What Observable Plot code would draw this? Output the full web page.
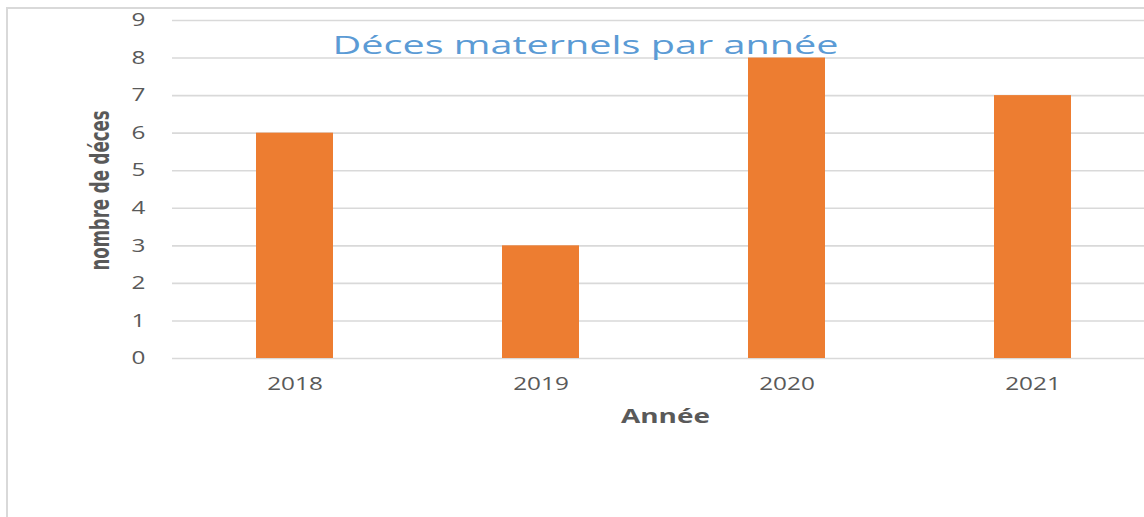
<!DOCTYPE html>
<html><head><meta charset="utf-8">
<script src="https://cdn.jsdelivr.net/npm/d3@7"></script>
<script src="https://cdn.jsdelivr.net/npm/@observablehq/plot@0.6"></script>
<style>
body{margin:0;background:#fff;}
#wrap{position:relative;width:1144px;height:517px;overflow:hidden;}
#border{position:absolute;left:6px;top:7px;width:1200px;height:600px;border-left:2px solid #d9d9d9;border-top:2px solid #d9d9d9;pointer-events:none;}
#wrap svg{position:absolute;left:0;top:0;}
</style></head><body><div id="wrap"><div id="border"></div></div>
<script>
const years = ["2018", "2019", "2020", "2021"];
const deaths = [6, 3, 8, 7];
const yTicks = [0, 1, 2, 3, 4, 5, 6, 7, 8, 9];
const titleText = "Déces maternels par année";
const xLabel = "Année";
const yLabel = "nombre de déces";

const data = years.map((y, i) => ({year: y, value: deaths[i]}));

const chart = Plot.plot({
  width: 1144, height: 517,
  marginLeft: 172, marginRight: 0, marginTop: 20, marginBottom: 159,
  style: {fontFamily: "'Open Sans', sans-serif", background: "transparent", overflow: "hidden"},
  x: {domain: years, range: [172, 1156], paddingInner: 0.685, paddingOuter: 0.3425, label: null},
  y: {domain: [0, 9], label: null},
  marks: [
    Plot.gridY(yTicks, {stroke: "#d9d9d9", strokeOpacity: 1, strokeWidth: 1.6}),
    Plot.barY(data, {x: "year", y: "value", fill: "#ED7D31"}),
    Plot.axisY(yTicks, {tickSize: 0, tickPadding: 27, fontSize: 18, color: "#595959", className: "yticks"}),
    Plot.axisX({tickSize: 0, tickPadding: 19, fontSize: 18, color: "#595959", className: "xticks"}),
    Plot.text([xLabel], {frameAnchor: "bottom", dx: 7, dy: 58, lineAnchor: "middle", fontSize: 20, fontWeight: "bold", fill: "#595959", className: "xlabel"}),
    Plot.text([yLabel], {frameAnchor: "left", dx: -72, dy: 81, rotate: -90, textAnchor: "start", lineAnchor: "middle", fontSize: 27, fontWeight: "bold", fontFamily: "'Liberation Sans Narrow', 'DejaVu Sans Condensed', sans-serif", fill: "#595959", className: "ylabel"}),
    Plot.text([titleText], {frameAnchor: "top-left", dx: 160, dy: 25, textAnchor: "start", lineAnchor: "middle", fontSize: 26, fill: "#5B9BD5", className: "ctitle"})
  ]
});
document.getElementById("wrap").appendChild(chart);

function stretch(sel, fn) {
  chart.querySelectorAll(sel).forEach(t => {
    const w = t.getComputedTextLength();
    t.setAttribute("textLength", fn(w));
    t.setAttribute("lengthAdjust", "spacingAndGlyphs");
  });
}
stretch(".yticks text", w => w * 1.35);
stretch(".xticks text", w => w * 1.35);
stretch(".xlabel text", w => 89);
stretch(".ylabel text", w => 160);
stretch(".ctitle text", w => 506);
</script>
</body></html>
